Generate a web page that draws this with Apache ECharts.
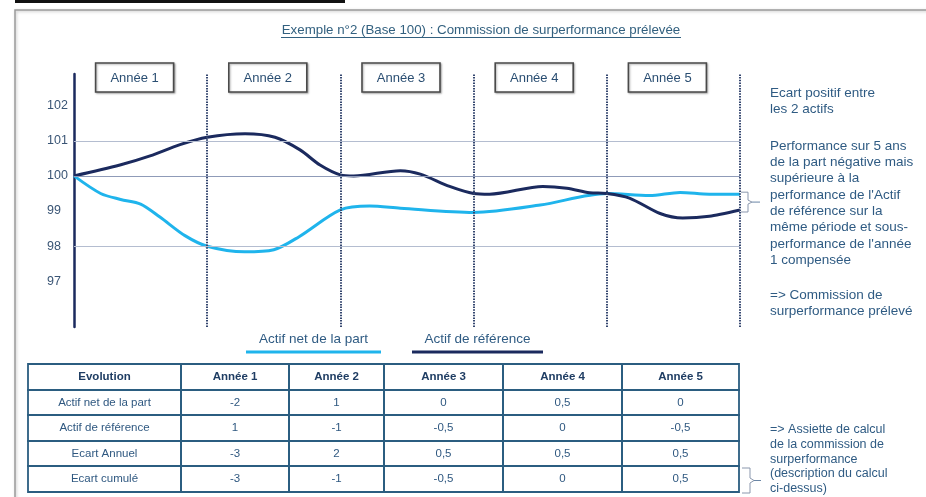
<!DOCTYPE html>
<html><head><meta charset="utf-8">
<script src="https://cdn.jsdelivr.net/npm/echarts@6/dist/echarts.min.js"></script>
<style>html,body{margin:0;padding:0;background:#fff}#c{width:926px;height:497px}</style>
</head><body><div id="c"></div>
<script>
// ---------- data ----------
const titleText = 'Exemple n°2 (Base 100) : Commission de surperformance prélevée';
const seriesNames = ['Actif net de la part', 'Actif de référence'];
const yearLabels = ['Année 1', 'Année 2', 'Année 3', 'Année 4', 'Année 5'];
const yTickLabels = [97, 98, 99, 100, 101, 102];
const gridValues = [101, 100, 98];
const yearBounds = [1, 2, 3, 4, 5];
// curve of "Actif net de la part" (x in years, value base 100)
const partX = [0, 0.2, 0.35, 0.5, 0.645, 0.833, 1, 1.28, 1.5, 1.69, 2, 2.22, 2.45, 3, 3.5, 4, 4.32, 4.55, 4.77, 5];
const partY = [100, 99.5, 99.33, 99.2, 98.83, 98.3, 98, 97.84, 97.9, 98.27, 99.03, 99.14, 99.08, 98.96, 99.17, 99.5, 99.44, 99.53, 99.48, 99.48];
// curve of "Actif de référence"
const refX = [0, 0.345, 0.571, 0.796, 1, 1.284, 1.509, 1.697, 1.847, 2, 2.1, 2.45, 2.6, 2.82, 3, 3.12, 3.52, 3.7, 3.87, 4, 4.17, 4.4, 4.57, 4.77, 5];
const refY = [100, 100.31, 100.57, 100.89, 101.1, 101.2, 101.1, 100.74, 100.31, 100.03, 100, 100.15, 100.05, 99.7, 99.5, 99.48, 99.7, 99.65, 99.52, 99.5, 99.37, 98.93, 98.8, 98.85, 99.03];
// table
const tableHeader = ['Evolution', 'Année 1', 'Année 2', 'Année 3', 'Année 4', 'Année 5'];
const rowLabels = ['Actif net de la part', 'Actif de référence', 'Ecart Annuel', 'Ecart cumulé'];
const rowActifNet = [-2, 1, 0, 0.5, 0];
const rowActifRef = [1, -1, -0.5, 0, -0.5];
const rowEcartAnnuel = [-3, 2, 0.5, 0.5, 0.5];
const rowEcartCumule = [-3, -1, -0.5, 0, 0.5];
// notes
const noteTop = ['Ecart positif entre', 'les 2 actifs'];
const noteMid = ['Performance sur 5 ans', 'de la part négative mais', 'supérieure à la', "performance de l'Actif", 'de référence sur la', 'même période et sous-', "performance de l'année", '1 compensée'];
const noteBot = ['=> Commission de', 'surperformance prélevé'];
const noteTable = ['=> Assiette de calcul', 'de la commission de', 'surperformance', '(description du calcul', 'ci-dessus)'];

// ---------- style ----------
const FONT = 'Liberation Sans, Arial, sans-serif';
const TXT = '#2f5b83';
const NAVY = '#1b2a5e';
const CYAN = '#1fb4ec';
const TBL = '#2b5d80';

const chart = echarts.init(document.getElementById('c'), null, {renderer: 'canvas'});
const zip = (xs, ys) => xs.map((x, i) => [x, ys[i]]);
const fmt = v => String(v).replace('.', ',');

chart.setOption({
  animation: false,
  grid: {left: 74, right: 186, top: 74, bottom: 170},
  xAxis: {type: 'value', min: 0, max: 5, show: false},
  yAxis: {
    type: 'value', min: 95.7, max: 102.9,
    axisLine: {show: true, lineStyle: {color: NAVY, width: 2.5}},
    axisTick: {show: false},
    splitLine: {show: false},
    axisLabel: {customValues: yTickLabels, align: 'left', margin: 27, color: '#3a5575', fontSize: 12.5, fontFamily: FONT}
  },
  series: [
    {
      type: 'line', data: [], z: 1, silent: true,
      markLine: {
        silent: true, symbol: 'none', label: {show: false}, animation: false,
        data: gridValues.map(v => ({yAxis: v, lineStyle: {color: v === 100 ? '#8f9bb8' : '#b4bdd0', width: 1.2, type: 'solid'}}))
          .concat(yearBounds.map(v => ({xAxis: v, lineStyle: {color: '#34466f', width: 2, type: [1.5, 1.2]}})))
      }
    },
    {name: seriesNames[0], type: 'line', data: zip(partX, partY), smooth: 0.3, symbol: 'none', z: 3,
      lineStyle: {color: CYAN, width: 3}},
    {name: seriesNames[1], type: 'line', data: zip(refX, refY), smooth: 0.3, symbol: 'none', z: 4,
      lineStyle: {color: NAVY, width: 3}}
  ]
});

// ---------- annotations ----------
const g = [];
// page decorations
g.push({type: 'rect', shape: {x: 15, y: 0, width: 330, height: 3}, style: {fill: '#111'}});
g.push({type: 'rect', shape: {x: 15, y: 10, width: 1000, height: 600},
  style: {fill: 'none', stroke: '#9a9a9a', lineWidth: 1.5, shadowBlur: 3, shadowColor: 'rgba(0,0,0,0.25)', shadowOffsetX: 1, shadowOffsetY: 1}});
// title
g.push({type: 'text', x: 481, y: 30, style: {text: titleText, fill: '#32607f', font: '13.3px ' + FONT, textAlign: 'center', textVerticalAlign: 'middle'}});
g.push({type: 'line', shape: {x1: 281, y1: 37.5, x2: 681, y2: 37.5}, style: {stroke: '#32607f', lineWidth: 1}});

// year boxes
yearLabels.forEach((lab, i) => {
  const cx = chart.convertToPixel({xAxisIndex: 0}, i + 0.5) - 6;
  g.push({type: 'rect', shape: {x: cx - 39, y: 63, width: 78, height: 29},
    style: {fill: '#fff', stroke: '#4a4a4a', lineWidth: 1.6, shadowBlur: 2, shadowColor: 'rgba(0,0,0,0.3)', shadowOffsetX: 1, shadowOffsetY: 1}});
  g.push({type: 'text', x: cx, y: 78, style: {text: lab, fill: '#2a4e72', font: '13px ' + FONT, textAlign: 'center', textVerticalAlign: 'middle'}});
});

// bracket at end of curves
(function () {
  const p1 = chart.convertToPixel({gridIndex: 0}, [5, partY[partY.length - 1]]);
  const p2 = chart.convertToPixel({gridIndex: 0}, [5, refY[refY.length - 1]]);
  const x0 = p1[0] + 1, t = p1[1] - 2, b = p2[1] + 2, m = (t + b) / 2;
  g.push({type: 'polyline', shape: {points: [[x0, t], [x0 + 7, t], [x0 + 7, m - 2], [x0 + 11, m], [x0 + 7, m + 2], [x0 + 7, b], [x0, b]]},
    style: {stroke: '#8a97ad', lineWidth: 1, fill: 'none'}});
  g.push({type: 'line', shape: {x1: x0 + 11, y1: m, x2: x0 + 19, y2: m}, style: {stroke: '#6a86a6', lineWidth: 1}});
})();

// right notes
const addLines = (lines, x, y0, lh, size) => lines.forEach((s, i) => g.push({type: 'text', x: x, y: y0 + i * lh,
  style: {text: s, fill: TXT, font: size + 'px ' + FONT, textAlign: 'left', textVerticalAlign: 'middle'}}));
addLines(noteTop, 770, 93, 16.2, 13.5);
addLines(noteMid, 770, 146, 16.3, 13.5);
addLines(noteBot, 770, 295, 16.2, 13.5);
addLines(noteTable, 770, 430, 14.6, 12.5);

// legend
const legendItems = [{name: seriesNames[0], color: CYAN, x1: 246, x2: 381}, {name: seriesNames[1], color: NAVY, x1: 412, x2: 543}];
legendItems.forEach(it => {
  g.push({type: 'text', x: (it.x1 + it.x2) / 2, y: 339, style: {text: it.name, fill: '#2f5b83', font: '13.5px ' + FONT, textAlign: 'center', textVerticalAlign: 'middle'}});
  g.push({type: 'line', shape: {x1: it.x1, y1: 352, x2: it.x2, y2: 352}, style: {stroke: it.color, lineWidth: 3}});
});

// table
const colX = [28, 181, 289, 384, 503, 622, 739];
const rowY = [364, 390, 415, 441, 466, 492];
const body = [rowActifNet, rowActifRef, rowEcartAnnuel, rowEcartCumule];
const cells = [tableHeader].concat(body.map((r, i) => [rowLabels[i]].concat(r.map(fmt))));
cells.forEach((row, r) => row.forEach((txt, c) => {
  const x = colX[c], w = colX[c + 1] - colX[c], y = rowY[r], h = rowY[r + 1] - rowY[r];
  g.push({type: 'rect', shape: {x: x, y: y, width: w, height: h}, style: {fill: 'none', stroke: TBL, lineWidth: 1.8}});
  g.push({type: 'text', x: x + w / 2, y: y + h / 2, style: {text: txt, fill: r === 0 ? '#1f3d63' : '#2f5880',
    font: (r === 0 ? 'bold 11.5px ' : '11.5px ') + FONT, textAlign: 'center', textVerticalAlign: 'middle'}});
}));
// bracket at table
g.push({type: 'polyline', shape: {points: [[742, 468], [750, 468], [750, 478], [754, 480.5], [750, 483], [750, 493], [742, 493]]},
  style: {stroke: '#8a97ad', lineWidth: 1, fill: 'none'}});
g.push({type: 'line', shape: {x1: 754, y1: 480.5, x2: 761, y2: 480.5}, style: {stroke: '#6a86a6', lineWidth: 1}});

chart.setOption({graphic: {elements: g}});
</script></body></html>
